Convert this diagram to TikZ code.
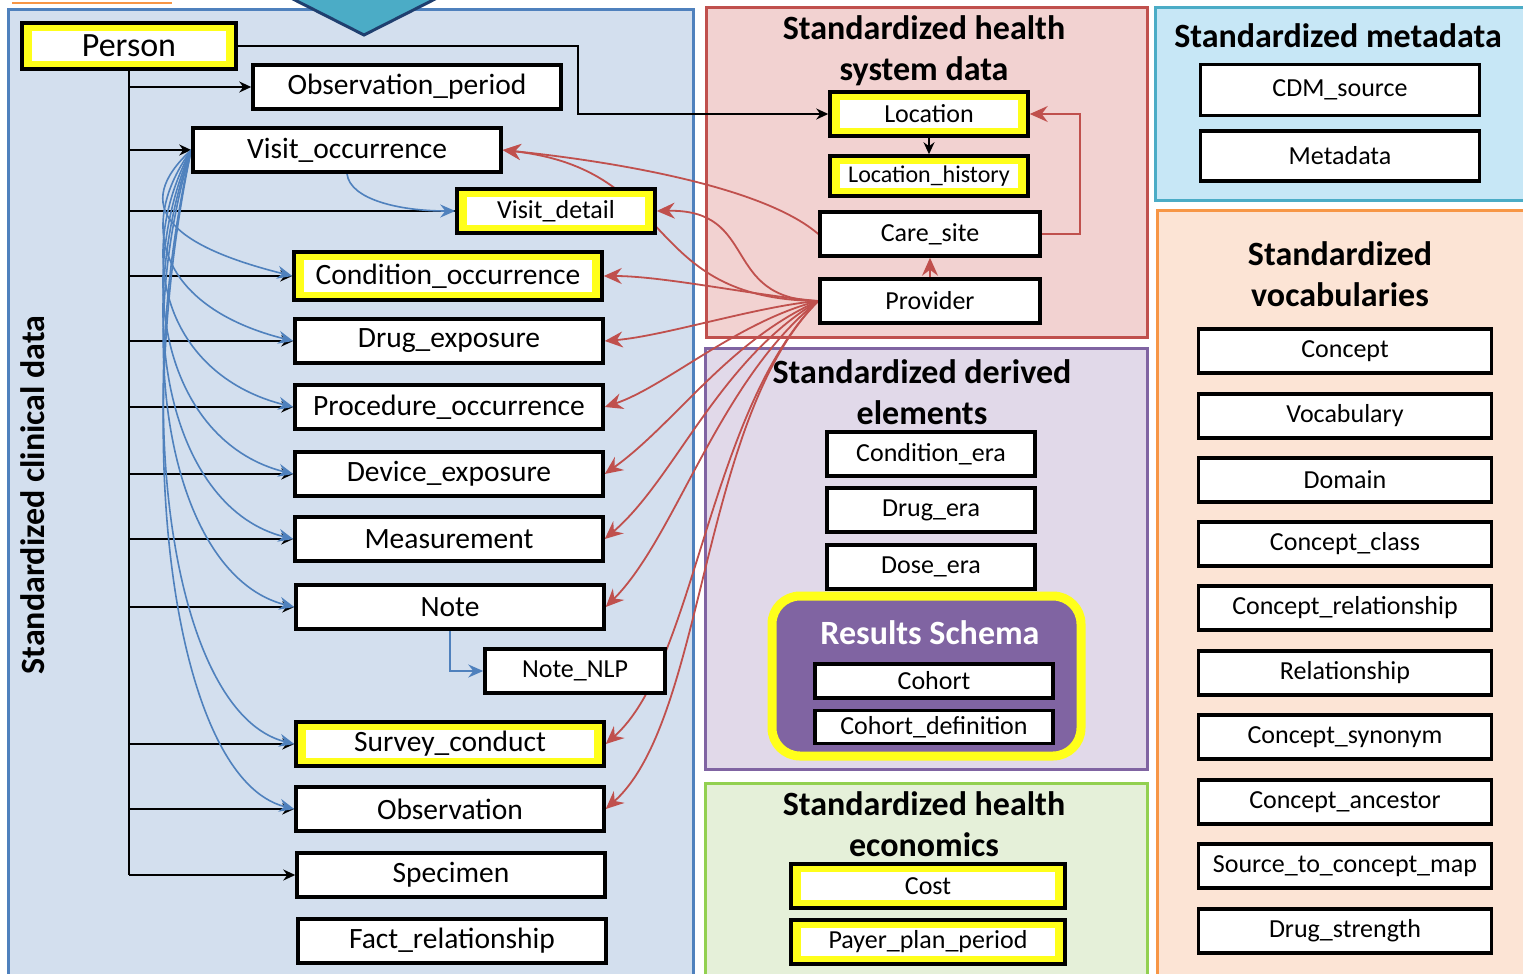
\documentclass[tikz,border=0pt]{standalone}
\usepackage{fontspec}
\setmainfont{Carlito}
\usetikzlibrary{arrows.meta}
\definecolor{clinfill}{HTML}{D3DFEE}
\definecolor{clinline}{HTML}{4F81BD}
\definecolor{hsfill}{HTML}{F2D2D1}
\definecolor{hsline}{HTML}{C0504D}
\definecolor{derfill}{HTML}{E1D9E9}
\definecolor{derline}{HTML}{8064A2}
\definecolor{ecofill}{HTML}{E5F0D9}
\definecolor{ecoline}{HTML}{92D050}
\definecolor{metafill}{HTML}{C7E7F6}
\definecolor{metaline}{HTML}{4BACC6}
\definecolor{vocfill}{HTML}{FCE4D5}
\definecolor{vocline}{HTML}{F79646}
\definecolor{hlyel}{HTML}{FFFF1A}
\definecolor{rspurple}{HTML}{8064A2}
\definecolor{arrred}{HTML}{C0504D}
\definecolor{arrblue}{HTML}{4F81BD}
\definecolor{trinavy}{HTML}{1F3F6F}
\pgfdeclarelayer{background}
\pgfdeclarelayer{links}
\pgfsetlayers{background,links,main}
\tikzset{
  tbl/.style={draw=black, line width=3.5pt, fill=white, inner sep=0pt, minimum height=44pt},
  lbox/.style={tbl, minimum width=308pt, font=\fontsize{29.5}{32}\selectfont},
  sbox/.style={tbl, font=\fontsize{26}{28}\selectfont},
  hl/.style={fill=hlyel, path picture={\fill[white] ([xshift=10pt,yshift=-8pt]path picture bounding box.north west) rectangle ([xshift=-10pt,yshift=8pt]path picture bounding box.south east);}},
  ttl/.style={align=center, font=\fontsize{34}{41}\selectfont\bfseries},
  blk/.style={line width=2pt, -{Stealth[length=12pt,width=11pt]}},
  bluarr/.style={draw=arrblue, line width=1.6pt, -{Stealth[length=15pt,width=13pt,inset=5pt]}},
  redarr/.style={draw=arrred, line width=1.8pt, -{Stealth[length=18pt,width=16pt,inset=6pt]}}
}
\begin{document}
\begin{tikzpicture}[x=1pt,y=-1pt]
\useasboundingbox (0,0) rectangle (1523,974);
\clip (0,0) rectangle (1523,974);
\begin{pgfonlayer}{background}
\fill[white] (0,0) rectangle (1523,974);
\draw[vocline, line width=2pt] (12,3) -- (172,3);
\draw[draw=clinline, fill=clinfill, line width=3pt] (8,10) rectangle (693,1000);
\filldraw[fill=metaline, draw=trinavy, line width=3pt] (285,-5) -- (364,35) -- (443,-5);
\draw[draw=hsline, fill=hsfill, line width=3pt] (706,8) rectangle (1147,337);
\draw[draw=derline, fill=derfill, line width=3pt] (705,348) rectangle (1147,769);
\draw[draw=ecoline, fill=ecofill, line width=3pt] (705,783) rectangle (1147,1000);
\draw[draw=metaline, fill=metafill, line width=3pt] (1155,8) rectangle (1540,200);
\draw[draw=vocline, fill=vocfill, line width=3pt] (1157,210) rectangle (1540,1000);
\end{pgfonlayer}

% panel titles
\node[ttl, rotate=90] (clintitle) at (33,495) {Standardized clinical data};
\node[ttl] (hstitle) at (924,51) {Standardized health\\system data};
\node[ttl] (dertitle) at (922,392) {Standardized derived\\elements};
\node[ttl] (ecotitle) at (924,824) {Standardized health\\economics};
\node[ttl] (metatitle) at (1338,36) {Standardized metadata};
\node[ttl] (voctitle) at (1340,274) {Standardized\\vocabularies};

% clinical data
\node[lbox, hl, minimum width=214pt, minimum height=46pt, font=\fontsize{34}{36}\selectfont] (person) at (129,46) {Person};
\node[lbox] (op) at (407,87) {Observation\_period};
\node[lbox] (vo) at (347,150) {Visit\_occurrence};
\node[sbox, hl, minimum width=198pt] (vd) at (556,211) {Visit\_detail};
\node[lbox, hl, minimum height=48pt] (cond) at (448,276) {Condition\_occurrence};
\node[lbox] (drug) at (449,341) {Drug\_exposure};
\node[lbox] (proc) at (449,407) {Procedure\_occurrence};
\node[lbox] (dev) at (449,474) {Device\_exposure};
\node[lbox] (meas) at (449,539) {Measurement};
\node[lbox] (note) at (450,607) {Note};
\node[sbox, minimum width=180pt] (nlp) at (575,671) {Note\_NLP};
\node[lbox, hl] (surv) at (450,744) {Survey\_conduct};
\node[lbox] (obs) at (450,809) {Observation};
\node[lbox] (spec) at (451,875) {Specimen};
\node[lbox] (fact) at (452,941) {Fact\_relationship};

% health system data
\node[sbox, hl, minimum width=198pt] (loc) at (929,114) {Location};
\node[sbox, hl, minimum width=198pt, minimum height=40pt, font=\fontsize{24}{26}\selectfont] (lochist) at (929,176) {Location\_history};
\node[sbox, minimum width=220pt] (cs) at (930,234) {Care\_site};
\node[sbox, minimum width=220pt] (prov) at (930,301) {Provider};

% derived elements
\node[sbox, minimum width=208pt] (cera) at (931,454) {Condition\_era};
\node[sbox, minimum width=208pt] (dera) at (931,510) {Drug\_era};
\node[sbox, minimum width=208pt] (dose) at (931,567) {Dose\_era};
\draw[draw=hlyel, line width=9pt, fill=rspurple, rounded corners=28pt] (772,596) rectangle (1081,756);
\node[font=\fontsize{34}{36}\selectfont\bfseries, text=white] (rs) at (930,633) {Results Schema};
\node[sbox, minimum width=238pt, minimum height=34pt] (coh) at (934,681) {Cohort};
\node[sbox, minimum width=238pt, minimum height=33pt] (cohdef) at (934,727) {Cohort\_definition};

% health economics
\node[sbox, hl, minimum width=274pt] (cost) at (928,886) {Cost};
\node[sbox, hl, minimum width=274pt] (ppp) at (928,942) {Payer\_plan\_period};

% metadata
\node[sbox, minimum width=279pt, minimum height=51pt] (cdm) at (1340,90) {CDM\_source};
\node[sbox, minimum width=279pt, minimum height=50pt] (meta) at (1340,156) {Metadata};

% vocabularies
\node[sbox, minimum width=293pt] (concept) at (1345,351) {Concept};
\node[sbox, minimum width=293pt] (vocab) at (1345,416) {Vocabulary};
\node[sbox, minimum width=293pt] (domain) at (1345,480) {Domain};
\node[sbox, minimum width=293pt] (cclass) at (1345,544) {Concept\_class};
\node[sbox, minimum width=293pt] (crel) at (1345,608) {Concept\_relationship};
\node[sbox, minimum width=293pt] (rel) at (1345,673) {Relationship};
\node[sbox, minimum width=293pt] (csyn) at (1345,737) {Concept\_synonym};
\node[sbox, minimum width=293pt] (canc) at (1345,802) {Concept\_ancestor};
\node[sbox, minimum width=293pt] (stcm) at (1345,866) {Source\_to\_concept\_map};
\node[sbox, minimum width=293pt] (dstr) at (1345,931) {Drug\_strength};

\begin{pgfonlayer}{links}
% person tree
\draw[line width=2pt] (person.south) -- (person.south |- spec.west);
\draw[blk] (person.south |- op.west) -- (op.west);
\draw[blk] (person.south |- vo.west) -- (vo.west);
\draw[line width=2pt] (person.south |- vd.west) -- (vd.west);
\draw[blk] (person.south |- cond.west) -- (cond.west);
\draw[blk] (person.south |- drug.west) -- (drug.west);
\draw[blk] (person.south |- proc.west) -- (proc.west);
\draw[blk] (person.south |- dev.west) -- (dev.west);
\draw[blk] (person.south |- meas.west) -- (meas.west);
\draw[blk] (person.south |- note.west) -- (note.west);
\draw[blk] (person.south |- surv.west) -- (surv.west);
\draw[blk] (person.south |- obs.west) -- (obs.west);
\draw[blk] (person.south |- spec.west) -- (spec.west);
\draw[blk] (person.east) -- ++(340,0) |- (loc.west);
\draw[blk, line width=1.5pt] (loc.south) -- (lochist.north);

% visit links
\draw[bluarr] (vo.south) .. controls +(3,26) and +(-55,0) .. (vd.west);
\draw[bluarr] (vo.west) .. controls +(-62,57) and +(-120,-30) .. (cond.west);
\draw[bluarr] (vo.west) .. controls +(-62,86) and +(-120,-30) .. (drug.west);
\draw[bluarr] (vo.west) .. controls +(-62,115) and +(-120,-30) .. (proc.west);
\draw[bluarr] (vo.west) .. controls +(-62,145) and +(-120,-30) .. (dev.west);
\draw[bluarr] (vo.west) .. controls +(-62,175) and +(-120,-30) .. (meas.west);
\draw[bluarr] (vo.west) .. controls +(-62,205) and +(-120,-30) .. (note.west);
\draw[bluarr] (vo.west) .. controls +(-62,267) and +(-120,-30) .. (surv.west);
\draw[bluarr] (vo.west) .. controls +(-62,296) and +(-120,-30) .. (obs.west);
\draw[bluarr] (note.south) |- (nlp.west);

% provider and care site links
\draw[redarr] (prov.north) -- (cs.south);
\draw[redarr] (cs.east) -- ++(38,0) |- (loc.east);
\draw[redarr] (cs.west) .. controls +(-58,-50) and +(97,10) .. (vo.east);
\draw[redarr] (prov.west) .. controls +(-178,-2) and +(177,20) .. (vo.east);
\draw[redarr] (prov.west) .. controls +(-98,-2) and +(103,-2) .. (vd.east);
\draw[redarr] (prov.west) .. controls +(-60,-5) and +(60,0) .. (cond.east);
\draw[redarr] (prov.west) .. controls +(-60,5) and +(60,-5) .. (drug.east);
\draw[redarr] (prov.west) .. controls +(-80,20) and +(60,-20) .. (proc.east);
\draw[redarr] (prov.west) .. controls +(-90,40) and +(70,-50) .. (dev.east);
\draw[redarr] (prov.west) .. controls +(-100,60) and +(70,-60) .. (meas.east);
\draw[redarr] (prov.west) .. controls +(-100,80) and +(70,-70) .. (note.east);
\draw[redarr] (prov.west) .. controls +(-110,110) and +(90,-80) .. (surv.east);
\draw[redarr] (prov.west) .. controls +(-118,118) and +(100,-90) .. (obs.east);
\end{pgfonlayer}
\end{tikzpicture}
\end{document}
